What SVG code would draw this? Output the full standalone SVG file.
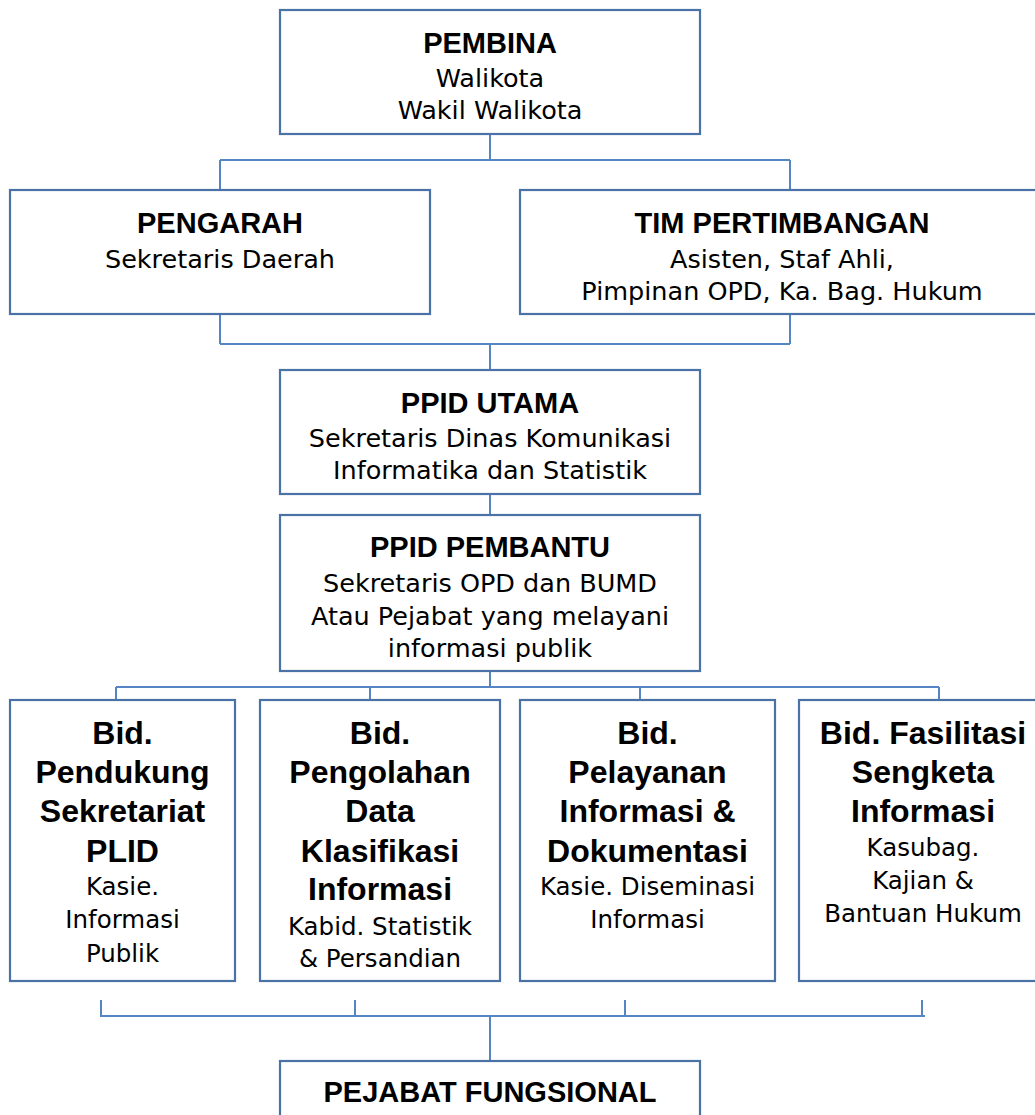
<svg xmlns="http://www.w3.org/2000/svg" width="1035" height="1115" viewBox="0 0 1035 1115">
<style>
.box{fill:#ffffff;stroke:#4a72a6;stroke-width:2.2}
.con{fill:none;stroke:#5585c2;stroke-width:2}
.t{font-family:"Liberation Sans",Arial,sans-serif;font-weight:bold;font-size:29px;fill:#000;text-anchor:middle}
.tb{font-family:"Liberation Sans",Arial,sans-serif;font-weight:bold;font-size:32px;fill:#000;text-anchor:middle}
.n{font-family:"DejaVu Sans",sans-serif;font-size:25.5px;fill:#000;text-anchor:middle}
.nb{font-family:"DejaVu Sans",sans-serif;font-size:24.5px;fill:#000;text-anchor:middle}
</style>
<rect width="1035" height="1115" fill="#ffffff"/>
<g id="connectors">
<path class="con" d="M490 134V160M220 160H790M220 160V190M790 160V190"/>
<path class="con" d="M220 314V344M790 314V344M220 344H790M490 344V370"/>
<path class="con" d="M490 494V515"/>
<path class="con" d="M490 671V687M116 687H939M116 687V700M370 687V700M640 687V700M939 687V700"/>
<path class="con" d="M101 1000V1016M355 1000V1016M625 1000V1016M922 1000V1016M100 1016H925M490 1016V1061"/>
</g>
<g id="pembina">
<rect class="box" x="280" y="10" width="420" height="124"/>
<text class="t" x="490" y="53">PEMBINA</text>
<text class="n" x="490" y="87">Walikota</text>
<text class="n" x="490" y="119">Wakil Walikota</text>
</g>
<g id="pengarah">
<rect class="box" x="10" y="190" width="420" height="124"/>
<text class="t" x="220" y="233">PENGARAH</text>
<text class="n" x="220" y="268">Sekretaris Daerah</text>
</g>
<g id="tim-pertimbangan">
<rect class="box" x="520" y="190" width="525" height="124"/>
<text class="t" x="782" y="233">TIM PERTIMBANGAN</text>
<text class="n" x="782" y="268">Asisten, Staf Ahli,</text>
<text class="n" x="782" y="300">Pimpinan OPD, Ka. Bag. Hukum</text>
</g>
<g id="ppid-utama">
<rect class="box" x="280" y="370" width="420" height="124"/>
<text class="t" x="490" y="413">PPID UTAMA</text>
<text class="n" x="490" y="447">Sekretaris Dinas Komunikasi</text>
<text class="n" x="490" y="479">Informatika dan Statistik</text>
</g>
<g id="ppid-pembantu">
<rect class="box" x="280" y="515" width="420" height="156"/>
<text class="t" x="490" y="557">PPID PEMBANTU</text>
<text class="n" x="490" y="592">Sekretaris OPD dan BUMD</text>
<text class="n" x="490" y="625">Atau Pejabat yang melayani</text>
<text class="n" x="490" y="657">informasi publik</text>
</g>
<g id="bid-pendukung">
<rect class="box" x="10" y="700" width="225" height="281"/>
<text class="tb" x="122.5" y="744">Bid.</text>
<text class="tb" x="122.5" y="783">Pendukung</text>
<text class="tb" x="122.5" y="822">Sekretariat</text>
<text class="tb" x="122.5" y="862">PLID</text>
<text class="nb" x="122.5" y="895">Kasie.</text>
<text class="nb" x="122.5" y="928">Informasi</text>
<text class="nb" x="122.5" y="962">Publik</text>
</g>
<g id="bid-pengolahan">
<rect class="box" x="260" y="700" width="240" height="281"/>
<text class="tb" x="380" y="744">Bid.</text>
<text class="tb" x="380" y="783">Pengolahan</text>
<text class="tb" x="380" y="822">Data</text>
<text class="tb" x="380" y="862">Klasifikasi</text>
<text class="tb" x="380" y="900">Informasi</text>
<text class="nb" x="380" y="935">Kabid. Statistik</text>
<text class="nb" x="380" y="967">&amp; Persandian</text>
</g>
<g id="bid-pelayanan">
<rect class="box" x="520" y="700" width="255" height="281"/>
<text class="tb" x="647.5" y="744">Bid.</text>
<text class="tb" x="647.5" y="783">Pelayanan</text>
<text class="tb" x="647.5" y="822">Informasi &amp;</text>
<text class="tb" x="647.5" y="862">Dokumentasi</text>
<text class="nb" x="647.5" y="895">Kasie. Diseminasi</text>
<text class="nb" x="647.5" y="928">Informasi</text>
</g>
<g id="bid-fasilitasi">
<rect class="box" x="799" y="700" width="248" height="281"/>
<text class="tb" x="923" y="744">Bid. Fasilitasi</text>
<text class="tb" x="923" y="783">Sengketa</text>
<text class="tb" x="923" y="822">Informasi</text>
<text class="nb" x="923" y="856">Kasubag.</text>
<text class="nb" x="923" y="889">Kajian &amp;</text>
<text class="nb" x="923" y="922">Bantuan Hukum</text>
</g>
<g id="pejabat-fungsional">
<rect class="box" x="280" y="1061" width="420" height="80"/>
<text class="t" x="490" y="1102">PEJABAT FUNGSIONAL</text>
</g>
</svg>
